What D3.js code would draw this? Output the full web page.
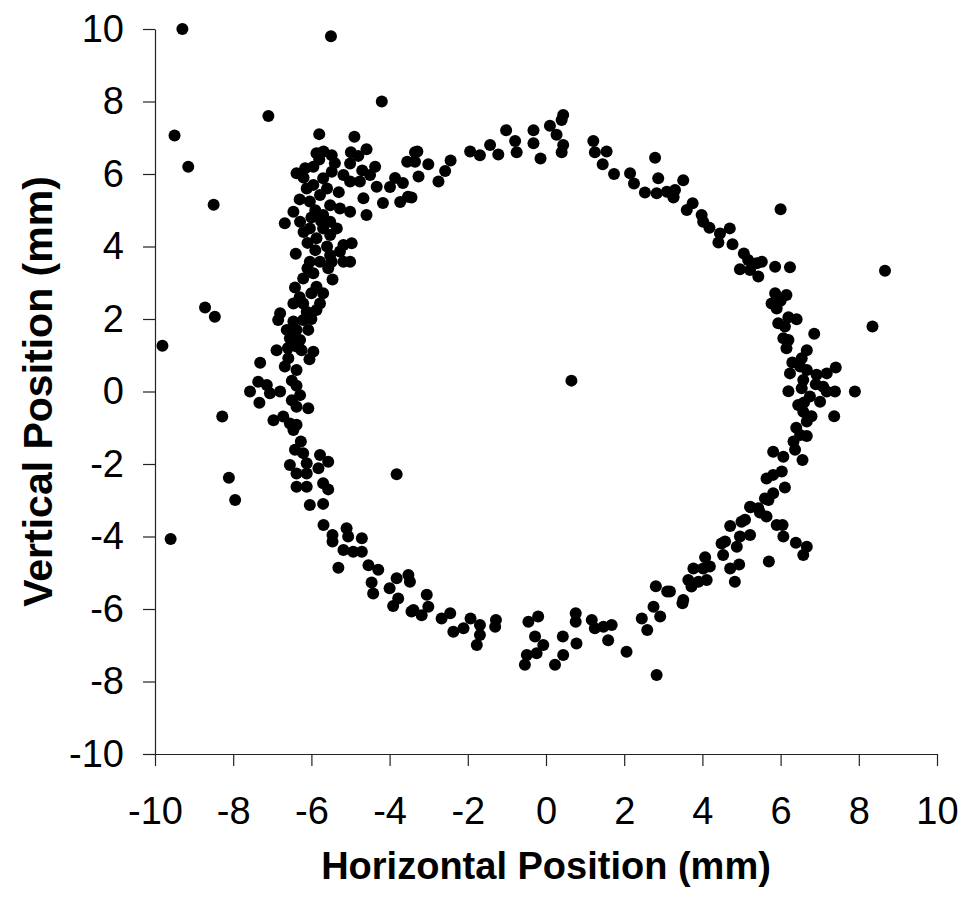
<!DOCTYPE html>
<html lang="en">
<head>
<meta charset="UTF-8">
<title>Horizontal vs Vertical Position</title>
<script src="https://d3js.org/d3.v7.min.js"></script>
<style>
  body { margin: 0; background: #fff; }
  text { font-family: Arial, "Liberation Sans", sans-serif; }
</style>
</head>
<body>
<svg width="963" height="899"></svg>
<script>
// tick values for both axes
const xTicks = [-10, -8, -6, -4, -2, 0, 2, 4, 6, 8, 10];
const yTicks = [-10, -8, -6, -4, -2, 0, 2, 4, 6, 8, 10];

// points, grouped by part of the ring (mm)
const upperLeftArc = [
  [-5.8,7.1],[-4.9,7.03],[-4.59,6.68],[-4.99,6.6],[-5.87,6.57],[-5.69,6.62],[-5.48,6.52],[-4.37,6.2],[-3.55,6.34],[-3.35,6.6],
  [-3.86,5.89],[-3.66,5.75],[-3.99,5.64],[-3.53,5.37],[-3.73,5.23],[-4.17,5.2],
  [-6.38,6.02],[-6.16,6.16],[-5.95,6.2],[-5.7,5.88],[-6.12,5.6],[-5.48,6.06],[-5.18,5.97],[-5.01,6.29],[-5.01,5.79],
  [-4.76,5.79],[-4.5,5.97],[-4.33,5.65],[-4.67,5.33],[-4.59,4.87],[-5.01,4.96],[-5.27,5.05],[-5.52,5.14],[-5.78,5.42],
  [-6.04,5.24],[-5.87,4.87],[-6.46,4.96],[-6.68,4.64],[-6.29,4.68],[-6.04,4.5],[-5.7,4.5],[-5.35,4.5],[-5.87,4.23],
  [-5.52,4.32],[-5.18,4.04],[-4.97,4.09],[-5.27,3.86],[-5.52,3.76],[-6.04,3.58],[-5.78,3.58],[-5.01,3.58],[-5.7,4.87],
  [-5.52,4.68],[-5.95,5.7],[-5.48,3.58],[-5.18,3.58],
  [-6.2,5.9],[-5.6,5.6],[-6.3,5.3],[-5.3,5.5],[-5.9,5.0],[-6.1,4.1],[-5.6,4.0],[-6.4,3.8],[-5.4,6.3],[-4.8,6.5],
  [-5.8,6.4],[-4.7,6.1],[-6.0,4.8],[-5.75,4.7],[-6.2,4.4],[-5.9,3.9]
];
const topArc = [
  [-3.29,6.62],[-3.35,6.34],[-3.01,6.27],[-3.26,5.93],[-3.44,5.35],[-2.75,5.79],[-2.58,6.08],[-2.44,6.37],[-1.94,6.62],
  [-1.69,6.52],[-1.43,6.8],[-1.22,6.54],[-1.02,7.21],[-0.79,6.91],[-0.75,6.6],[-0.32,7.21],[-0.32,6.85],[-0.14,6.43],
  [0.1,7.33],[0.27,7.08],[0.4,7.49],[0.44,7.63],[0.44,6.8],[0.4,6.6],[1.21,6.91],[1.25,6.6],[1.55,6.62],[1.45,6.27],
  [1.74,6.0],[2.15,6.02],[2.25,5.74],[2.79,6.45],[2.87,5.88],[2.53,5.49],[2.83,5.47],[3.09,5.51],[3.26,5.37],
  [3.51,5.83],[3.3,5.56],[3.26,5.35],[3.75,5.19],[3.6,5.01],[3.98,4.87],[4.02,4.68],[4.18,4.52],[4.7,4.5],[4.45,4.36],
  [4.41,4.11],[4.77,4.06],[5.06,3.81],[5.17,3.63],[5.52,3.58]
];
const rightArc = [
  [4.96,3.37],[5.22,3.35],[5.43,3.17],[5.39,3.54],[5.86,3.44],[6.24,3.43],
  [5.86,2.71],[6.15,2.66],[5.77,2.43],[5.9,2.29],[6.2,2.05],[6.41,1.99],[5.94,1.88],[6.11,1.79],[6.07,1.47],[6.2,1.42],
  [6.15,1.19],[6.86,1.59],[6.67,1.14],[6.54,0.92],[6.5,0.69],[6.67,0.59],[6.24,0.5],[6.92,0.46],[7.18,0.5],[7.41,0.66],
  [6.58,0.32],[6.54,0.09],[6.2,0.01],[6.75,-0.14],[6.45,-0.37],[7.09,0.13],[7.18,0.0],[7.39,0.0],[7.01,-0.28],[6.58,-0.56],
  [6.79,-0.68],[6.67,-0.83],[7.37,-0.68],[6.5,-1.2],[6.67,-1.23],[6.33,-1.38],[6.37,-1.61],[5.81,-1.66],[6.07,-1.8],
  [6.56,-1.89],[6.03,-2.21],[5.81,-2.3],[5.64,-2.4],[6.11,-2.65],[5.81,-2.81],[5.6,-2.95],[5.22,-3.18],[5.43,-3.22],
  [6.0,2.5],[6.3,0.8],[6.9,0.2],[6.6,-0.3],[6.4,-1.0]
];
const lowerRightArc = [
  [3.17,-5.52],[3.51,-5.75],[3.49,-5.84],[3.64,-5.2],[3.72,-5.38],[3.77,-4.88],[4.02,-4.88],[4.07,-4.57],[4.19,-4.83],
  [4.11,-5.2],[3.9,-5.25],[4.49,-4.19],[4.58,-4.14],[4.53,-4.51],[4.88,-4.28],[4.96,-4.0],[5.22,-3.96],[4.71,-3.71],
  [5.0,-3.59],[5.09,-3.54],[5.23,-3.19],[5.47,-3.34],[5.69,-2.99],[5.64,-3.45],[5.9,-3.68],[6.05,-3.68],[6.07,-4.0],
  [6.39,-4.17],[6.67,-4.28],[6.58,-4.51],[4.71,-4.88],[4.94,-4.77],[4.83,-5.25],[5.7,-4.69]
];
const bottomArc = [
  [-3.39,-6.03],[-3.18,-6.17],[-3.05,-5.61],[-3.01,-5.94],[-2.67,-6.26],[-2.45,-6.12],[-2.37,-6.63],[-2.11,-6.53],
  [-1.93,-6.26],[-1.69,-6.44],[-1.69,-6.72],[-1.77,-6.99],[-1.3,-6.49],[-1.28,-6.3],[-0.45,-6.35],[-0.2,-6.21],
  [-0.28,-6.76],[-0.07,-6.99],[-0.24,-7.22],[-0.49,-7.27],[-0.54,-7.54],[0.23,-7.54],[0.44,-7.27],[0.43,-6.76],
  [0.78,-6.95],[0.76,-6.12],[0.76,-6.35],[1.17,-6.3],[1.25,-6.53],[1.47,-6.49],[1.68,-6.44],[1.59,-6.86],[2.06,-7.18],
  [2.45,-6.26],[2.59,-6.58],[2.75,-5.94],[2.92,-6.21],[2.81,-5.37],[3.1,-5.52]
];
const lowerLeftArc = [
  [-5.69,-3.68],[-5.46,-3.96],[-5.46,-4.14],[-5.1,-3.77],[-5.06,-4.0],[-5.18,-4.37],[-4.93,-4.42],[-4.71,-4.05],
  [-4.71,-4.42],[-5.31,-4.86],[-4.54,-4.79],[-4.29,-4.92],[-4.46,-5.27],[-4.42,-5.57],[-4.0,-5.43],[-3.82,-5.15],
  [-3.52,-5.06],[-3.78,-5.71],[-3.91,-5.92],[-3.48,-5.25],[-3.44,-6.07]
];
const leftArc = [
  [-5.95,3.26],[-5.57,3.4],[-5.46,3.09],[-6.21,3.12],[-6.42,2.87],[-5.87,2.89],[-5.7,2.71],[-6.0,2.71],[-6.46,2.43],
  [-6.21,2.43],[-5.78,2.43],[-5.87,2.25],[-6.12,2.2],[-6.8,2.16],[-6.85,1.97],[-6.46,1.93],[-6.21,1.97],[-6.63,1.7],
  [-6.38,1.7],[-6.08,1.7],[-6.55,1.47],[-6.29,1.42],[-6.38,1.24],[-6.46,1.56],[-6.89,1.14],[-6.25,1.14],[-5.95,1.1],
  [-6.05,0.89],[-6.59,0.92],[-6.68,0.69],[-6.38,0.59],[-7.31,0.79],[-7.36,0.27],[-7.14,0.18],[-7.57,0.0],[-7.06,-0.05],
  [-6.8,0.0],[-7.33,-0.31],[-6.38,0.16],[-6.29,-0.1],[-6.5,-0.24],[-6.08,-0.46],[-6.38,-0.42],[-6.97,-0.79],[-6.72,-0.69],
  [-6.55,-0.88],[-6.38,-0.92],[-6.46,-1.06],[-6.27,-1.38],[-6.42,-1.61],[-6.21,-1.7],[-6.55,-2.03],[-6.12,-1.98],
  [-6.38,-2.26],[-6.12,-2.26],[-6.38,-2.63],[-6.12,-2.63],[-5.78,-1.75],[-5.57,-1.94],[-5.82,-2.12],[-5.7,-2.53],
  [-5.57,-2.7],[-6.04,-3.13],[-5.7,-3.1],
  [-6.1,3.4],[-6.0,2.0],[-6.3,2.6],[-6.6,1.2],[-6.5,0.3]
];
const outliers = [
  [-9.3,10.0],[-5.5,9.8],[-4.2,8.0],[-7.1,7.6],[-9.5,7.06],[-9.15,6.2],[-8.5,5.15],[6.0,5.03],[8.67,3.33],[8.35,1.79],
  [7.9,0.0],[2.83,-7.82],[-9.6,-4.07],[-8.72,2.32],[-8.47,2.06],[-9.81,1.26],[-8.28,-0.69],[-8.11,-2.38],[-7.95,-2.99],
  [-3.82,-2.28],[0.65,0.3]
];

const svg = d3.select("svg");

const x = d3.scaleLinear().domain([-10, 10]).range([155, 937]);
const y = d3.scaleLinear().domain([-10, 10]).range([754, 29]);

const allPoints = [].concat(upperLeftArc, topArc, rightArc, lowerRightArc, bottomArc, lowerLeftArc, leftArc, outliers);

// axes (plain hyphen for negatives, like the original)
const xAxis = svg.append("g")
    .attr("transform", `translate(0,${y(-10)})`)
    .call(d3.axisBottom(x).tickValues(xTicks).tickFormat(d => String(d))
        .tickSize(12).tickSizeOuter(0).tickPadding(31));

const yAxis = svg.append("g")
    .attr("transform", `translate(${x(-10)},0)`)
    .call(d3.axisLeft(y).tickValues(yTicks).tickFormat(d => String(d))
        .tickSize(12).tickSizeOuter(0).tickPadding(19));

[xAxis, yAxis].forEach(g => {
    g.select(".domain").attr("stroke", "#222").attr("stroke-width", 1.2);
    g.selectAll(".tick line").attr("stroke", "#222").attr("stroke-width", 1.2);
    g.selectAll(".tick text")
        .attr("fill", "#000")
        .style("font-size", "38px")
        .style("font-family", 'Arial, "Liberation Sans", sans-serif');
});

// dots
svg.append("g")
    .selectAll("circle")
    .data(allPoints)
    .join("circle")
    .attr("cx", d => x(d[0]))
    .attr("cy", d => y(d[1]))
    .attr("r", 6)
    .attr("fill", "#000");

// axis titles
svg.append("text")
    .attr("x", (x(-10) + x(10)) / 2)
    .attr("y", 879)
    .attr("text-anchor", "middle")
    .attr("font-weight", "bold")
    .attr("font-size", "38px")
    .text("Horizontal Position (mm)");

svg.append("text")
    .attr("transform", `translate(52,${(y(-10) + y(10)) / 2}) rotate(-90)`)
    .attr("text-anchor", "middle")
    .attr("font-weight", "bold")
    .attr("font-size", "41px")
    .text("Vertical Position (mm)");
</script>
</body>
</html>
